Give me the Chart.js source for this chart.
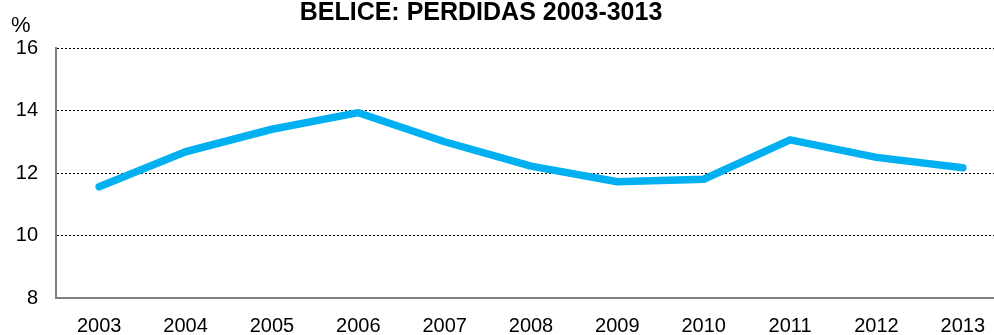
<!DOCTYPE html>
<html>
<head>
<meta charset="utf-8">
<script src="https://cdn.jsdelivr.net/npm/chart.js@4"></script>
<style>
  html, body { margin: 0; padding: 0; background: #fff; overflow: hidden; }
  #wrap { position: relative; width: 1006px; height: 335px; }
</style>
</head>
<body>
<div id="wrap"><canvas id="lossChart"></canvas></div>
<script>
const years = ['2003', '2004', '2005', '2006', '2007', '2008', '2009', '2010', '2011', '2012', '2013'];
const losses = [11.56, 12.68, 13.40, 13.93, 13.00, 12.22, 11.72, 11.80, 13.06, 12.50, 12.17];
const titleText = 'BELICE: PERDIDAS 2003-3013';
const unitText = '%';

// title and unit label drawn where the original puts them
const labelsPlugin = {
    id: 'labels',
    afterDraw(chart) {
        const c = chart.ctx;
        c.save();
        c.fillStyle = '#000';
        c.textBaseline = 'alphabetic';
        c.font = 'bold 25px "Liberation Sans", Arial, sans-serif';
        c.textAlign = 'center';
        c.fillText(titleText, 481, 20);
        c.font = '22px "Liberation Sans", Arial, sans-serif';
        c.textAlign = 'left';
        c.fillText(unitText, 11, 32);
        c.restore();
    }
};

document.addEventListener('DOMContentLoaded', function () {
    const ctx = document.getElementById('lossChart').getContext('2d');
    new Chart(ctx, {
        type: 'line',
        data: {
            labels: years,
            datasets: [{
                label: 'Pérdidas',
                data: losses,
                borderColor: '#00B0F0',
                borderWidth: 7.5,
                borderCapStyle: 'round',
                borderJoinStyle: 'round',
                pointRadius: 0,
                tension: 0,
                fill: false
            }]
        },
        options: {
            responsive: true,
            maintainAspectRatio: false,
            animation: false,
            layout: { padding: { top: 48, left: 0, right: 0, bottom: 0 } },
            plugins: {
                legend: { display: false },
                title: { display: false },
                tooltip: { enabled: false }
            },
            scales: {
                x: {
                    offset: true,
                    grid: { display: false, drawTicks: false },
                    border: { display: true, color: '#808080', width: 2 },
                    ticks: {
                        color: '#000',
                        padding: 16,
                        maxRotation: 0,
                        font: { family: '"Liberation Sans", Arial, sans-serif', size: 20 }
                    },
                    afterFit(scale) { scale.height = 37; }
                },
                y: {
                    min: 8,
                    max: 16,
                    ticks: {
                        stepSize: 2,
                        color: '#000',
                        padding: 18,
                        font: { family: '"Liberation Sans", Arial, sans-serif', size: 20 }
                    },
                    grid: {
                        color: function (c) { return c.tick.value === 8 ? 'rgba(0,0,0,0)' : '#000'; },
                        lineWidth: 1,
                        drawTicks: false
                    },
                    border: { display: true, color: '#808080', width: 2, dash: [2, 2] },
                    afterFit(scale) { scale.width = 56; }
                }
            }
        },
        plugins: [labelsPlugin]
    });
});
</script>
</body>
</html>
